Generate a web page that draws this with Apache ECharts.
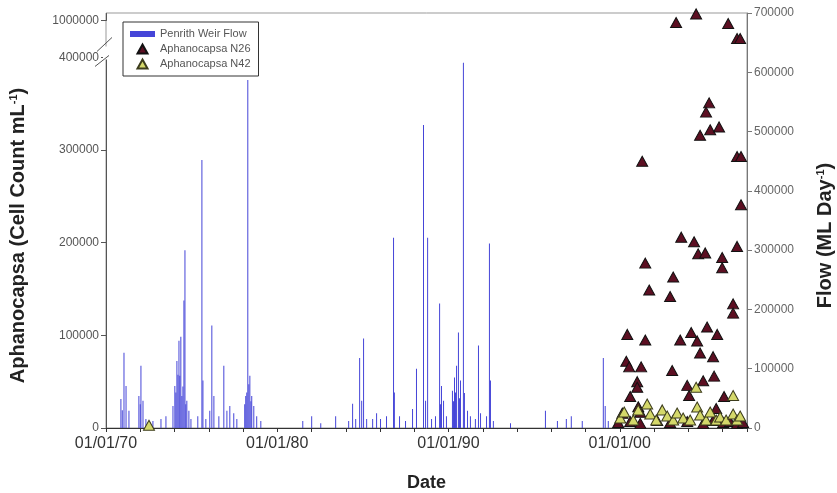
<!DOCTYPE html>
<html><head><meta charset="utf-8">
<script src="https://cdn.jsdelivr.net/npm/echarts@6/dist/echarts.min.js"></script>
<style>html,body{margin:0;padding:0;background:#fff}#c{width:837px;height:493px}</style>
</head><body><div id="c"></div>
<script>
// ---- Penrith Weir flow (ML/day), decimal year of each flow event ----
const flowYears = [1970.87,1970.95,1971.05,1971.17,1971.34,1971.92,1972.00,1972.04,1972.16,1972.33,1972.74,1973.21,1973.50,1973.91,
  1974.02,1974.08,1974.14,1974.20,1974.26,1974.31,1974.37,1974.43,1974.49,1974.55,1974.61,1974.66,1974.72,1974.84,1974.96,1975.36,1975.60,1975.66,
  1975.83,1976.06,1976.18,1976.30,1976.59,1976.88,1977.06,1977.23,1977.46,1977.64,1978.10,1978.16,1978.22,1978.28,1978.34,1978.40,
  1978.46,1978.51,1978.63,1978.80,1979.04,1981.49,1982.01,1982.54,1983.41,1984.17,1984.40,1984.58,1984.81,1984.93,1985.04,
  1985.22,1985.57,1985.80,1986.03,1986.38,1986.79,1986.84,1987.14,1987.49,1987.90,1988.13,1988.54,1988.66,1988.78,1989.01,
  1989.24,1989.48,1989.53,1989.59,1989.71,1989.88,1990.23,1990.29,1990.35,1990.41,1990.47,1990.58,1990.64,1990.70,1990.87,1990.93,1991.11,1991.28,
  1991.57,1991.75,1991.87,1992.22,1992.39,1992.45,1992.62,1993.62,1995.66,1996.36,1996.88,1997.17,1997.81,1999.04,
  1999.15,1999.33];
const flowValues = [49000,30000,127000,71000,29000,54000,40000,105000,46000,15000,12000,15000,20000,37000,
  71000,60000,113000,90000,147000,88000,154000,54000,70000,215000,300000,40000,46000,29000,15000,20000,452000,80000,
  15000,29000,173000,54000,20000,105000,29000,37000,25000,15000,40000,54000,60000,587000,74000,88000,
  45000,54000,37000,20000,12000,12000,20000,8000,20000,12000,41000,15000,118000,46000,151000,
  15000,15000,25000,15000,20000,321000,60000,20000,12000,32000,100000,511000,46000,321000,15000,
  20000,210000,40000,71000,46000,20000,63000,45000,85000,60000,105000,161000,50000,80000,616000,59000,29000,20000,
  15000,139000,25000,20000,311000,80000,12000,8000,29000,12000,15000,20000,12000,118000,
  37000,12000];

// ---- Aphanocapsa N26 (cells/mL) ----
const n26Years = [2003.29,2004.46,2006.33,2006.85,2007.03,2005.22,2005.04,2005.28,2005.80,2004.69,2006.85,2007.08,
  2001.31,2007.08,2003.59,2004.34,2004.58,2004.99,2005.98,2005.98,2006.85,2001.49,2003.12,2001.72,2002.94,2006.62,
  2006.62,2000.44,2001.49,2003.53,2004.17,2004.52,2005.10,2005.69,2004.69,2005.45,2000.38,2000.55,2001.25,2003.06,
  2005.51,2004.87,2001.02,2001.02,2003.94,2004.05,2006.09,2000.61,2001.08,2001.20,2005.63,2000.15,
  1999.91,2000.61,2001.20,2002.19,2002.94,2003.94,2004.87,2005.45,2006.04,2006.44,2006.85,2007.20];
const n26Counts = [967000,1007000,950000,707000,707000,351000,341000,322000,325000,316000,293000,293000,
  288000,241000,206000,201000,188000,189000,184000,173000,196000,178000,163000,149000,142000,134000,
  124000,101000,95000,95000,103000,94000,109000,101000,81000,77000,72000,66000,66000,62000,
  56000,51000,50000,44000,46000,35000,34000,34000,23000,17000,21000,16000,
  6000,7000,5000,8000,6000,7000,5000,8000,6000,7000,5000,6000];

// ---- Aphanocapsa N42 (cells/mL) ----
const n42Years = [1972.51,2004.46,2006.62,2000.03,2000.26,2000.79,2001.08,2001.60,2001.78,2002.13,2002.48,2002.77,
  2003.12,2003.35,2003.70,2004.11,2004.52,2004.69,2005.04,2005.28,2005.63,2005.86,2006.21,2006.62,2006.85,2007.03];
const n42Counts = [3000,44000,35000,10800,17300,8600,19500,25900,15100,8600,19500,13000,
  8600,16200,10800,8600,22700,14000,8600,17300,8600,11900,8600,15100,8600,13000];

// ---- tick labels ----
const decadeLabels = {1970:'01/01/70',1980:'01/01/80',1990:'01/01/90',2000:'01/01/00'};
const cellTicks = [0,100000,200000,300000,400000,1000000];

const FONT = 'Liberation Sans';
const chart = echarts.init(document.getElementById('c'), null, {renderer:'canvas'});
const titleStyle = {fontFamily: FONT, fontSize: 20, fontWeight: 'bold', color: '#222', padding: [0, 30, 0, 0],
  rich: {sup: {fontFamily: FONT, fontSize: 11, fontWeight: 'bold', color: '#222', verticalAlign: 'top', padding: [0,0,9,0]}}};
const option = {
  animation: false,
  backgroundColor: '#fff',
  textStyle: {fontFamily: FONT},
  grid: {left: 106, right: 90, top: 13, bottom: 65, show: true, borderColor: '#999', borderWidth: 1,
    backgroundColor: 'transparent', outerBoundsMode: 'none', containLabel: false},
  legend: {
    orient: 'vertical', left: 123, top: 22,
    backgroundColor: '#fff', borderColor: '#333', borderWidth: 1,
    padding: [5, 8, 5, 7], itemGap: 1, itemWidth: 25, itemHeight: 9,
    symbolKeepAspect: true,
    textStyle: {fontFamily: FONT, fontSize: 11, color: '#555', lineHeight: 14},
    data: [
      {name: 'Penrith Weir Flow', icon: 'path://M0,0H25V6H0Z'},
      {name: 'Aphanocapsa N26', icon: 'path://M5,0L10,9L0,9Z'},
      {name: 'Aphanocapsa N42', icon: 'path://M5,0L10,9L0,9Z'}
    ]
  },
  xAxis: {
    type: 'value', min: 1970, max: 2007.43, interval: 2,
    name: 'Date', nameLocation: 'middle', nameGap: 46,
    nameTextStyle: {fontFamily: FONT, fontSize: 18, fontWeight: 'bold', color: '#222'},
    axisLine: {show: true, lineStyle: {color: '#333', width: 1}},
    axisTick: {show: true, length: 4, inside: false, lineStyle: {color: '#333'}},
    axisLabel: {fontFamily: FONT, fontSize: 16, color: '#333', margin: 8,
      formatter: v => decadeLabels[Math.round(v)] && Math.abs(v - Math.round(v)) < 1e-6 ? decadeLabels[Math.round(v)] : ''},
    splitLine: {show: false}
  },
  yAxis: [{
    type: 'value', min: 0, max: 1008000, interval: 100000, position: 'left',
    breaks: [{start: 400000, end: 1000000, gap: 40000}],
    breakArea: {show: false},
    name: 'Aphanocapsa (Cell Count mL{sup|-1})', nameLocation: 'middle', nameGap: 78, nameRotate: 90,
    nameTextStyle: titleStyle,
    axisLine: {show: true, lineStyle: {color: '#555', width: 1}},
    axisTick: {show: true, length: 5, lineStyle: {color: '#555'}, customValues: cellTicks},
    axisLabel: {fontFamily: FONT, fontSize: 12, color: '#555', margin: 7, customValues: cellTicks, formatter: v => String(v)},
    splitLine: {show: false}
  }, {
    type: 'value', min: 0, max: 700000, interval: 100000, position: 'right',
    name: 'Flow (ML Day{sup|-1})', nameLocation: 'middle', nameGap: 68, nameRotate: 90,
    nameTextStyle: titleStyle,
    axisLine: {show: true, lineStyle: {color: '#777', width: 1}},
    axisTick: {show: true, length: 5, lineStyle: {color: '#777'}},
    axisLabel: {fontFamily: FONT, fontSize: 12, color: '#666', margin: 7, formatter: v => String(v)},
    splitLine: {show: false}
  }],
  series: [{
    name: 'Penrith Weir Flow', type: 'bar', xAxisIndex: 0, yAxisIndex: 1, barWidth: 1,
    itemStyle: {color: '#4545d8'},
    data: flowYears.map((y, i) => [y, flowValues[i]]), z: 1
  }, {
    name: 'Aphanocapsa N26', type: 'scatter', xAxisIndex: 0, yAxisIndex: 0,
    symbol: 'triangle', symbolSize: [11, 10],
    itemStyle: {color: '#5c0f22', borderColor: '#111', borderWidth: 1, opacity: 1},
    data: n26Years.map((y, i) => [y, n26Counts[i]]), z: 3
  }, {
    name: 'Aphanocapsa N42', type: 'scatter', xAxisIndex: 0, yAxisIndex: 0,
    symbol: 'triangle', symbolSize: [11, 10],
    itemStyle: {color: '#d4d86a', borderColor: '#3c3c1c', borderWidth: 1, opacity: 1},
    data: n42Years.map((y, i) => [y, n42Counts[i]]), z: 4
  }]
};
chart.setOption(option);

// axis-break slashes on the left axis, positioned from the axis scale
const xL = chart.convertToPixel({xAxisIndex: 0}, 1970);
const y400 = chart.convertToPixel({yAxisIndex: 0}, 400000);
chart.setOption({
  graphic: [
    {type: 'rect', z: 100, shape: {x: xL - 3, y: y400 - 11, width: 6, height: 13}, style: {fill: '#fff'}},
    {type: 'line', z: 101, shape: {x1: xL - 9, y1: y400 - 6, x2: xL + 6, y2: y400 - 20}, style: {stroke: '#555', lineWidth: 1}},
    {type: 'line', z: 101, shape: {x1: xL - 11, y1: y400 + 9, x2: xL + 3, y2: y400 - 2}, style: {stroke: '#555', lineWidth: 1}}
  ]
});
</script></body></html>
